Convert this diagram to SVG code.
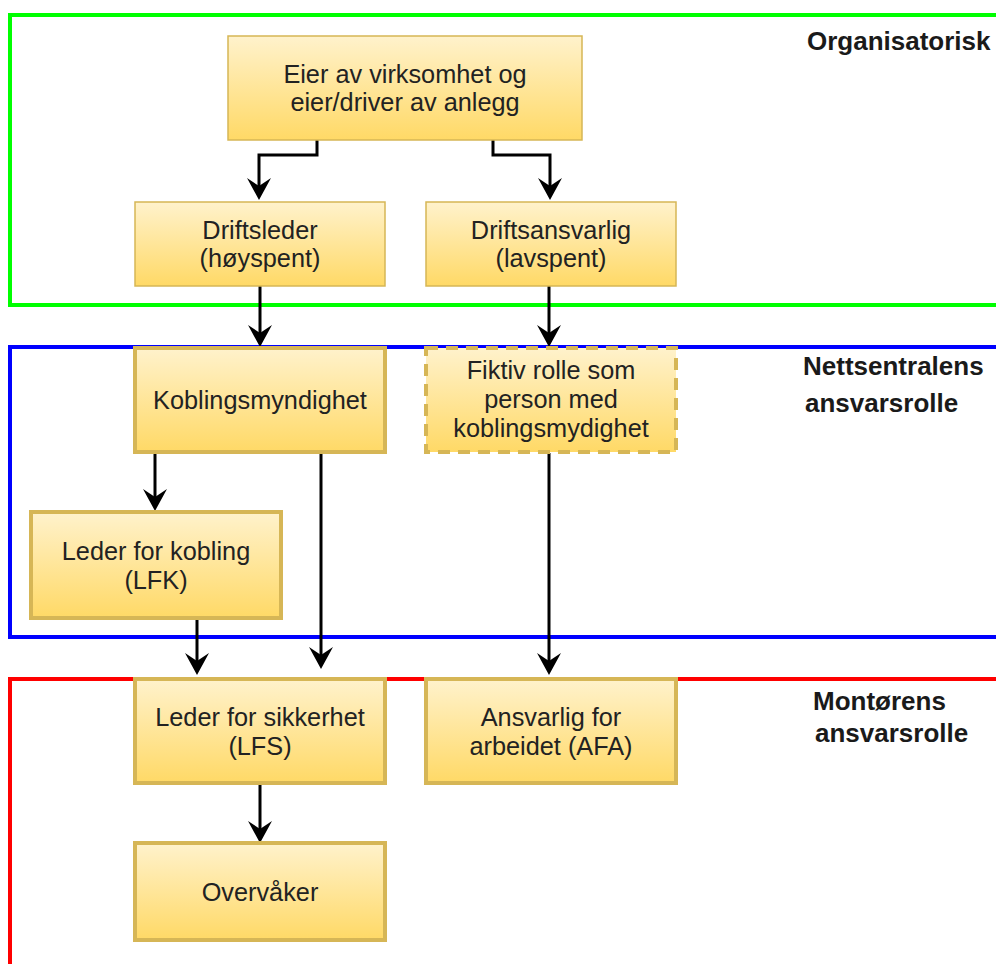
<svg xmlns="http://www.w3.org/2000/svg" width="996" height="964" viewBox="0 0 996 964">
<defs>
<linearGradient id="g" x1="0" y1="0" x2="0" y2="1">
<stop offset="0" stop-color="#fff2cc"/>
<stop offset="1" stop-color="#ffd966"/>
</linearGradient>
<marker id="ah" markerUnits="userSpaceOnUse" markerWidth="24" markerHeight="26" viewBox="-9 -13 24 26" refX="0" refY="0" orient="auto" overflow="visible">
<path d="M14,0 L-8,-12 L0,0 L-8,12 Z" fill="#000"/>
</marker>
</defs>
<style>
.frame{fill:none;stroke-width:4}
.thin{fill:url(#g);stroke:#d6b656;stroke-width:1.5}
.thick{fill:url(#g);stroke:#d6b656;stroke-width:4}
.dash{fill:url(#g);stroke:#d6b656;stroke-width:4;stroke-dasharray:12 8}
.t{font-family:"Liberation Sans",Arial,sans-serif;font-size:25.3px;fill:#222;text-anchor:middle}
.lbl{font-family:"Liberation Sans",Arial,sans-serif;font-size:26px;font-weight:bold;fill:#1a1a1a}
.c{fill:none;stroke:#000;stroke-width:3;marker-end:url(#ah)}
</style>
<rect width="996" height="964" fill="#fff"/>
<g id="frames">
<rect class="frame" x="10" y="15" width="1010" height="290" stroke="#00ff00"/>
<rect class="frame" x="10" y="347" width="1010" height="290" stroke="#0000ff"/>
<rect class="frame" x="10" y="679" width="1010" height="320" stroke="#ff0000"/>
</g>
<g id="labels">
<text class="lbl" x="807" y="50">Organisatorisk</text>
<text class="lbl" x="803" y="375">Nettsentralens</text>
<text class="lbl" x="805" y="412">ansvarsrolle</text>
<text class="lbl" x="813" y="710">Montørens</text>
<text class="lbl" x="815" y="742">ansvarsrolle</text>
</g>
<g id="connectors">
<path class="c" d="M317,140 V155 H259 V186"/>
<path class="c" d="M493,140 V155 H550 V186"/>
<path class="c" d="M260,286 V333"/>
<path class="c" d="M549,286 V333"/>
<path class="c" d="M155,453 V497"/>
<path class="c" d="M197,618 V661"/>
<path class="c" d="M321,453 V655"/>
<path class="c" d="M549,453 V661"/>
<path class="c" d="M260,784 V829"/>
</g>
<g id="n-eier">
<rect class="thin" x="228" y="36" width="354" height="104"/>
<text class="t" x="405" y="83">Eier av virksomhet og</text>
<text class="t" x="405" y="111">eier/driver av anlegg</text>
</g>
<g id="n-driftsleder">
<rect class="thin" x="135" y="202" width="250" height="84"/>
<text class="t" x="260" y="239">Driftsleder</text>
<text class="t" x="260" y="267">(høyspent)</text>
</g>
<g id="n-driftsansvarlig">
<rect class="thin" x="426" y="202" width="250" height="84"/>
<text class="t" x="551" y="239">Driftsansvarlig</text>
<text class="t" x="551" y="267">(lavspent)</text>
</g>
<g id="n-koblingsmyndighet">
<rect class="thick" x="135" y="348" width="250" height="104"/>
<text class="t" x="260" y="409">Koblingsmyndighet</text>
</g>
<g id="n-fiktiv">
<rect class="dash" x="426" y="348" width="250" height="104"/>
<text class="t" x="551" y="379">Fiktiv rolle som</text>
<text class="t" x="551" y="408">person med</text>
<text class="t" x="551" y="437">koblingsmydighet</text>
</g>
<g id="n-lfk">
<rect class="thick" x="31" y="512" width="250" height="106"/>
<text class="t" x="156" y="560">Leder for kobling</text>
<text class="t" x="156" y="589">(LFK)</text>
</g>
<g id="n-lfs">
<rect class="thick" x="135" y="679" width="250" height="104"/>
<text class="t" x="260" y="726">Leder for sikkerhet</text>
<text class="t" x="260" y="755">(LFS)</text>
</g>
<g id="n-afa">
<rect class="thick" x="426" y="679" width="250" height="104"/>
<text class="t" x="551" y="726">Ansvarlig for</text>
<text class="t" x="551" y="755">arbeidet (AFA)</text>
</g>
<g id="n-overvaker">
<rect class="thick" x="135" y="843" width="250" height="97"/>
<text class="t" x="260" y="901">Overvåker</text>
</g>
</svg>
